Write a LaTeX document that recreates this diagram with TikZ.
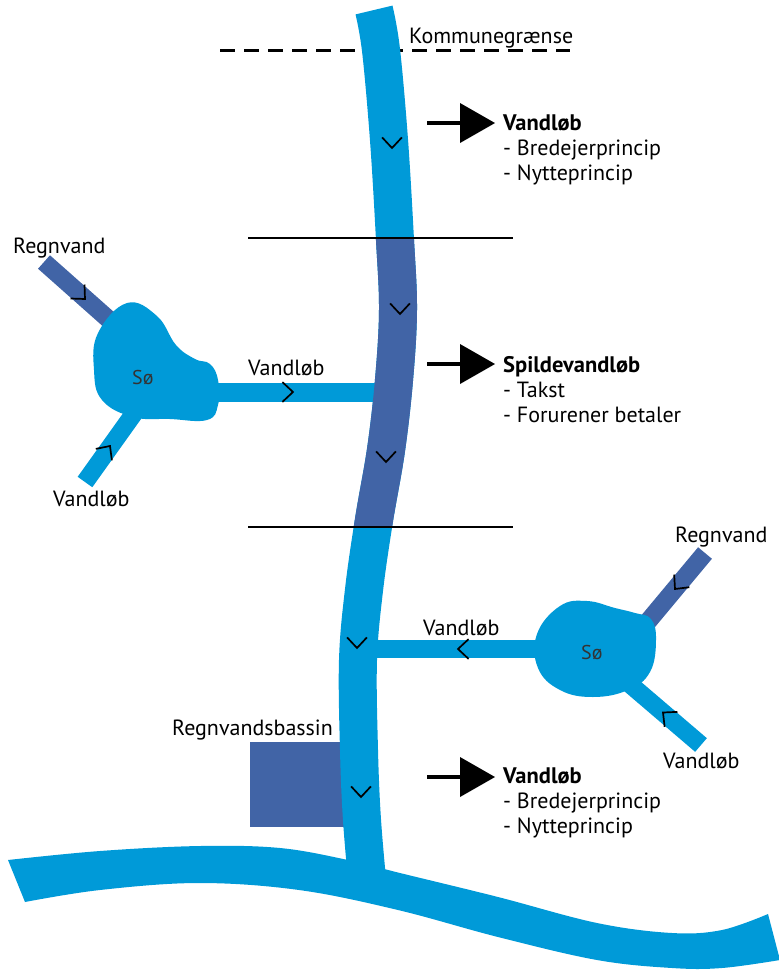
\documentclass[tikz,border=0pt]{standalone}
\usepackage{fontspec}
\setmainfont{PT Sans}
\definecolor{lb}{RGB}{0,154,216}
\definecolor{db}{RGB}{65,100,166}
\newcommand\chevron[3]{\draw[chevst] (#1,#2) ++(#3+43:14.5) -- (#1,#2) -- ++(#3-43:14.5);}
\begin{document}
\begin{tikzpicture}[x=1pt,y=-1pt,
  river/.style={line width=38pt, color=lb, line cap=butt},
  stub/.style={line width=18pt, line cap=butt},
  chevst/.style={line width=1.7pt, black, line join=miter},
  lbl/.style={font=\fontsize{22}{26}\selectfont, anchor=base west, inner sep=0pt},
  bld/.style={lbl, font=\fontsize{22.5}{26}\selectfont\bfseries},
  so/.style={font=\fontsize{20}{24}\selectfont, anchor=base west, inner sep=0pt, text=black!80},
  sep/.style={line width=2.2pt, black},
  bigarrow/.style={line width=3.5pt, black},
  ahead/.style={fill=black}
]
\useasboundingbox (0,0) rectangle (779,970);
\def\mainpath{plot[smooth, tension=0.6] coordinates {(374,10) (381,50) (389,140) (395,240) (398,310) (394,380) (386,450) (374,520) (364,590) (358,660) (359,750) (362,820) (368,890)}}

% dashed border
\draw[line width=3pt, dash pattern=on 15pt off 9pt] (220,50) -- (570,50);
\node[lbl] (komm) at (409,43) {Kommunegrænse};

% basin
\fill[db] (250,742) rectangle (350,827);
\node[lbl] (bassin) at (172,735) {Regnvandsbassin};

% left lake stubs
\draw[stub, color=db] (44,262) -- (115,325);
\draw[stub, color=lb] (85,482) -- (140,405);
\draw[line width=19pt, color=lb] (210,392) -- (385,392);
\fill[lb] plot[smooth cycle, tension=0.7] coordinates {(127,303) (157,316) (176,345) (195,359) (210,364) (218,380) (218,405) (207,420) (170,419) (133,417) (102,400) (94,370) (98,333)};

% right lake stubs
\draw[stub, color=db] (705,553) -- (645,625);
\draw[stub, color=lb] (701,745) -- (625,680);
\draw[stub, color=lb] (350,649) -- (545,649);
\fill[lb] plot[smooth cycle, tension=0.7] coordinates {(560,606) (587,601) (615,608) (635,613) (651,619) (656,640) (650,672) (628,690) (593,697) (560,690) (538,668) (537,634)};

% main river
\draw[river] \mainpath;
\begin{scope}
  \clip (0,238) rectangle (779,527);
  \draw[river, color=db] \mainpath;
\end{scope}

% bottom river
\fill[lb] plot[smooth, tension=0.6] coordinates {(8,860) (100,851) (200,846) (280,848) (348,860) (400,873) (498,897) (597,923) (672,933) (722,930) (768,914)}
  -- plot[smooth, tension=0.6] coordinates {(780,960) (722,968) (672,968) (597,960) (498,937) (398,910) (299,890) (199,883) (100,890) (25,902)} -- cycle;

% separators
\draw[sep] (248,238) -- (513,238);
\draw[sep] (248,527) -- (513,527);

% chevrons main river
\chevron{392}{148}{270}
\chevron{400}{314}{270}
\chevron{386}{462}{270}
\chevron{357}{648}{270}
\chevron{361}{797}{270}
% chevrons side
\chevron{85}{299}{225}
\chevron{110}{446}{125.5}
\chevron{293}{392}{180}
\chevron{675}{589}{309.8}
\chevron{663}{712.5}{40.5}
\chevron{458}{649}{0}

% big arrows
\foreach \y/\n in {123/a1,364/a2,777/a3}{
  \coordinate (\n s) at (427,\y);
  \coordinate (\n t) at (462,\y);
  \draw[bigarrow] (\n s) -- (\n t);
  \fill[ahead] (460,\y-20) -- (495,\y) -- (460,\y+20) -- cycle;
}

% texts
\node[bld] (t1) at (503,130) {Vandløb};
\node[lbl] (t1a) at (503,155) {- Bredejerprincip};
\node[lbl] (t1b) at (503,180) {- Nytteprincip};
\node[bld] (t2) at (503,372) {Spildevandløb};
\node[lbl] (t2a) at (503,397) {- Takst};
\node[lbl] (t2b) at (503,422) {- Forurener betaler};
\node[bld] (t3) at (503,783) {Vandløb};
\node[lbl] (t3a) at (503,808) {- Bredejerprincip};
\node[lbl] (t3b) at (503,833) {- Nytteprincip};

\node[lbl] (rv1) at (13,253) {Regnvand};
\node[lbl] (vl1) at (53,506) {Vandløb};
\node[lbl] (vl2) at (248,375) {Vandløb};
\node[so] (so1) at (132,384) {Sø};
\node[lbl] (rv2) at (675,542) {Regnvand};
\node[lbl] (vl3) at (423,635) {Vandløb};
\node[lbl] (vl4) at (663,768) {Vandløb};
\node[so] (so2) at (581,659) {Sø};
\end{tikzpicture}
\end{document}
